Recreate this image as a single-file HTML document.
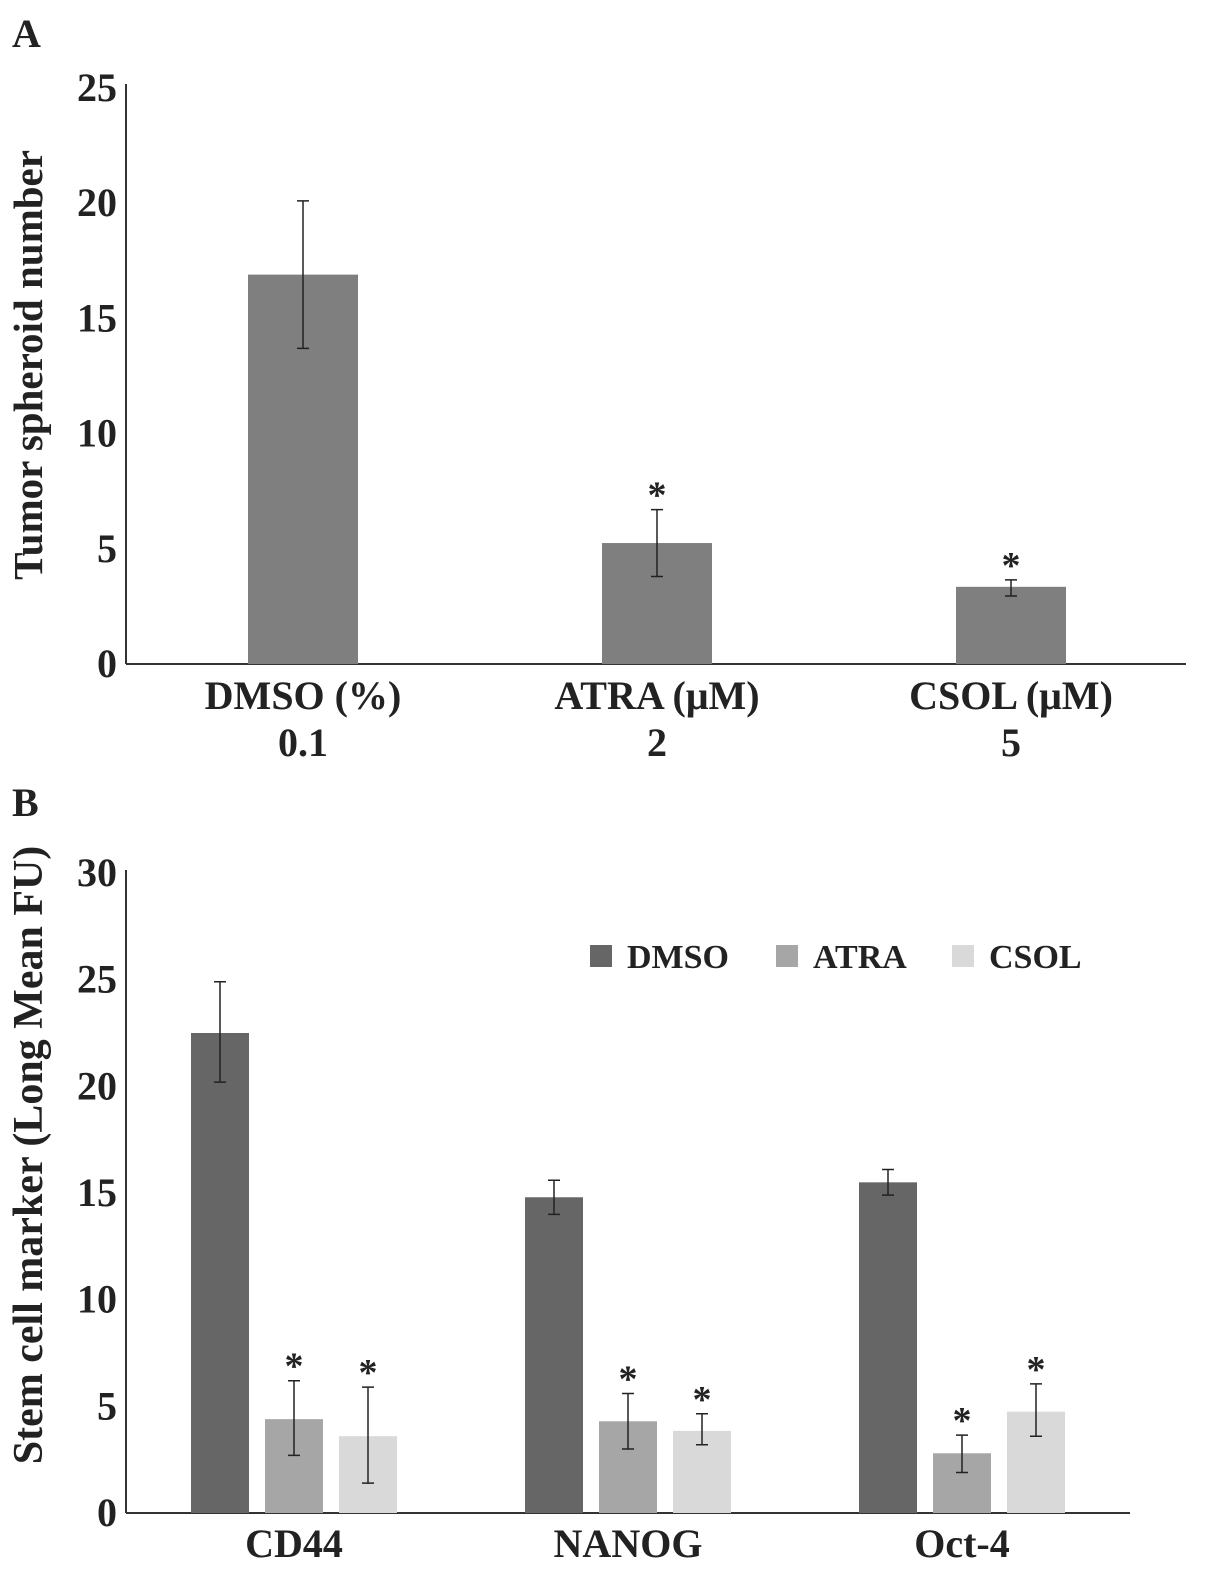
<!DOCTYPE html>
<html><head><meta charset="utf-8"><style>
body{margin:0;background:#fff}
svg text{font-family:"Liberation Serif",serif;font-weight:bold;fill:#222}
</style></head><body>
<svg id="fig" width="1205" height="1574" xmlns="http://www.w3.org/2000/svg"></svg>
<script>
const catsA=["DMSO (%)","ATRA (μM)","CSOL (μM)"];
const subA=["0.1","2","5"];
const valsA=[16.9,5.25,3.35];
const errHiA=[20.1,6.7,3.65];
const errLoA=[13.7,3.8,2.95];
const sigA=[false,true,true];
const ticksA=[0,5,10,15,20,25];

const catsB=["CD44","NANOG","Oct-4"];
const seriesB=["DMSO","ATRA","CSOL"];
const dmsoB=[22.5,14.8,15.5];
const atraB=[4.4,4.3,2.8];
const csolB=[3.6,3.85,4.75];
const dmsoHiB=[24.9,15.6,16.1], dmsoLoB=[20.2,14.0,14.9];
const atraHiB=[6.2,5.6,3.65], atraLoB=[2.7,3.0,1.9];
const csolHiB=[5.9,4.65,6.05], csolLoB=[1.4,3.2,3.6];
const sigB=[[false,true,true],[false,true,true],[false,true,true]];
const ticksB=[0,5,10,15,20,25,30];

const NS="http://www.w3.org/2000/svg";
const svg=document.getElementById('fig');
function el(t,a,p){const e=document.createElementNS(NS,t);for(const k in a)e.setAttribute(k,a[k]);(p||svg).appendChild(e);return e;}
function txt(s,a,p){const e=el('text',a,p);e.textContent=s;return e;}

// Panel A
const yA=v=>664-v*(576/25);
const gA=el('g',{});


let t=txt("A",{x:12,y:47,'font-size':40},gA);


let ax=el('line',{x1:126,y1:84,x2:126,y2:664,stroke:'#333','stroke-width':2},gA);


ax=el('line',{x1:126,y1:664,x2:1186,y2:664,stroke:'#333','stroke-width':2},gA);


ticksA.forEach(v=>{const e=txt(String(v),{x:117,y:yA(v)+13,'font-size':40,'text-anchor':'end'},gA);

});
t=txt("Tumor spheroid number",{x:0,y:0,'font-size':41,'text-anchor':'middle',transform:'translate(42,365) rotate(-90)'},gA);


catsA.forEach((c,i)=>{
  const cx=303+i*354;
  const b=el('rect',{x:cx-55,y:yA(valsA[i]),width:110,height:yA(0)-yA(valsA[i]),fill:'#7f7f7f'},gA);
  
  
  const er=el('path',{d:`M${cx},${yA(errHiA[i])}V${yA(errLoA[i])}M${cx-6},${yA(errHiA[i])}h12M${cx-6},${yA(errLoA[i])}h12`,stroke:'#222','stroke-width':1.5,fill:'none'},gA);
  
  
  if(sigA[i]){const s=txt('*',{x:cx,y:yA(errHiA[i])-2,'font-size':38,'text-anchor':'middle','font-weight':'normal'},gA);
  
  }
  const l=txt(c,{x:cx,y:709,'font-size':40,'text-anchor':'middle'},gA);
  
  
  const l2=txt(subA[i],{x:cx,y:756,'font-size':40,'text-anchor':'middle'},gA);
  
  
});

// Panel B
const yB=v=>1513-v*(640/30);
const gB=el('g',{});


t=txt("B",{x:12,y:816,'font-size':40},gB);


ax=el('line',{x1:126,y1:870,x2:126,y2:1513,stroke:'#333','stroke-width':2},gB);


ax=el('line',{x1:126,y1:1513,x2:1130,y2:1513,stroke:'#333','stroke-width':2},gB);


ticksB.forEach(v=>{const e=txt(String(v),{x:117,y:yB(v)+13,'font-size':40,'text-anchor':'end'},gB);

});
t=txt("Stem cell marker (Long Mean FU)",{x:0,y:0,'font-size':42,'text-anchor':'middle',transform:'translate(42,1155) rotate(-90)'},gB);


const colors=['#666666','#a6a6a6','#d9d9d9'];
const vals=[dmsoB,atraB,csolB],his=[dmsoHiB,atraHiB,csolHiB],los=[dmsoLoB,atraLoB,csolLoB];
catsB.forEach((c,i)=>{
  const gc=294+i*334;
  for(let s=0;s<3;s++){
    const cx=gc+(s-1)*74;
    const v=vals[s][i];
    const b=el('rect',{x:cx-29,y:yB(v),width:58,height:yB(0)-yB(v),fill:colors[s]},gB);
    
    
    const hi=yB(his[s][i]),lo=yB(los[s][i]);
    const er=el('path',{d:`M${cx},${hi}V${lo}M${cx-6},${hi}h12M${cx-6},${lo}h12`,stroke:'#222','stroke-width':1.5,fill:'none'},gB);
    
    
    if(sigB[i][s]){const st=txt('*',{x:cx,y:hi-2,'font-size':38,'text-anchor':'middle','font-weight':'normal'},gB);
    
    }
  }
  const l=txt(c,{x:gc,y:1557,'font-size':40,'text-anchor':'middle'},gB);
  
  
});
const legX=[590,776,952];
seriesB.forEach((s,i)=>{
  const g=el('g',{},gB);
  
  
  el('rect',{x:legX[i],y:945,width:22,height:22,fill:colors[i]},g);
  txt(s,{x:legX[i]+37,y:968,'font-size':34},g);
});
</script>
</body></html>
